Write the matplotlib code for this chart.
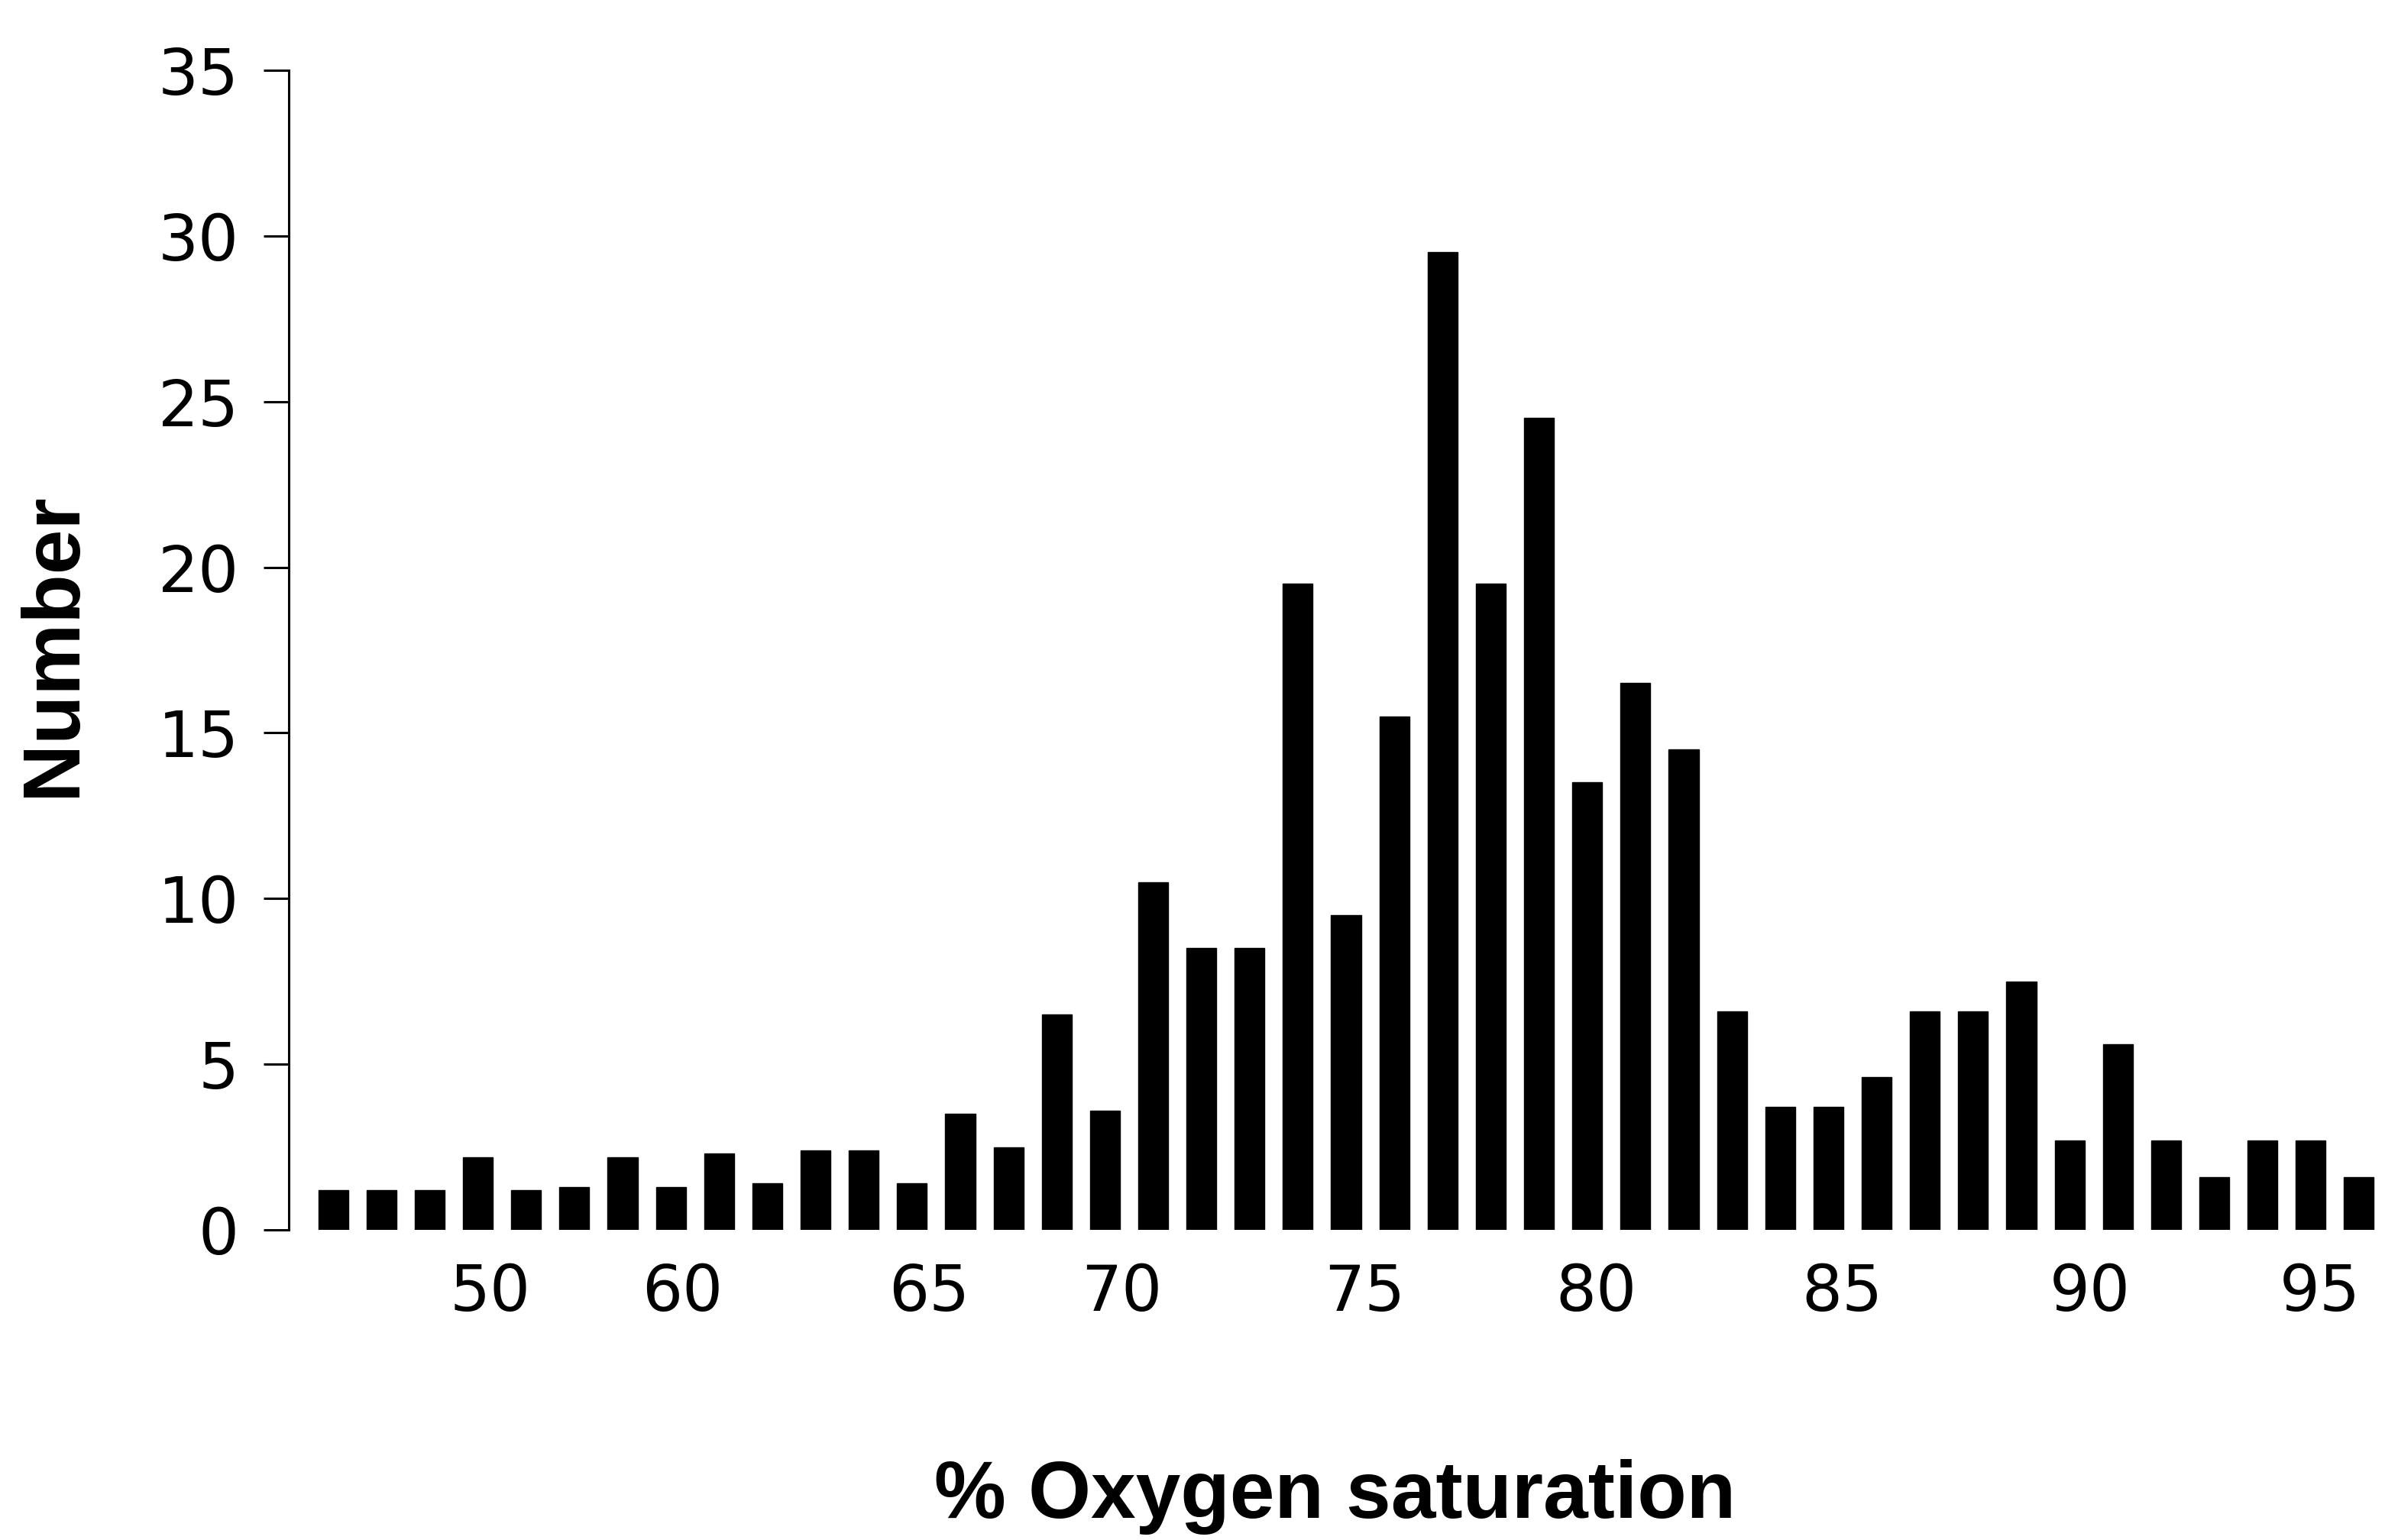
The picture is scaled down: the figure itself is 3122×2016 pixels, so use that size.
import matplotlib
matplotlib.use("Agg")
import matplotlib.pyplot as plt
import numpy as np

plt.rcParams['font.family'] = ['Liberation Sans', 'DejaVu Sans']

## bar heights, left to right
counts = [1.2, 1.2, 1.2, 2.2, 1.2, 1.3, 2.2, 1.3, 2.3, 1.4, 2.4, 2.4, 1.4,
          3.5, 2.5, 6.5, 3.6, 10.5, 8.5, 8.5, 19.5, 9.5, 15.5, 29.5, 19.5,
          24.5, 13.5, 16.5, 14.5, 6.6, 3.7, 3.7, 4.6, 6.6, 6.6, 7.5, 2.7,
          5.6, 2.7, 1.6, 2.7, 2.7, 1.6]
x_labels = ["50", "60", "65", "70", "75", "80", "85", "90", "95"]
x_label_pos = [3.26, 7.24, 12.36, 16.35, 21.38, 26.18, 31.28, 36.43, 41.19]
y_ticks = [0, 5, 10, 15, 20, 25, 30, 35]

fig = plt.figure(figsize=(31.22, 20.16), dpi=100)
ax = fig.add_axes([0.1211, 0.2014, 0.8789, 0.753])

idx = np.arange(len(counts))
ax.bar(idx, counts, width=0.62, color="black", edgecolor="black")

ax.set_xlim(-0.92, 42.54)
ax.set_ylim(0, 35)

ax.set_yticks(y_ticks)
ax.set_yticklabels([str(t) for t in y_ticks], family="DejaVu Sans")
ax.set_xticks(x_label_pos)
ax.set_xticklabels(x_labels, family="DejaVu Sans")

ax.tick_params(axis="y", direction="out", length=24, width=2.2, pad=23,
               labelsize=60, color="black")
ax.tick_params(axis="x", length=0, pad=30, labelsize=60)

for side in ["top", "right", "bottom"]:
    ax.spines[side].set_visible(False)
ax.spines["left"].set_linewidth(2.2)

ax.set_xlabel("% Oxygen saturation", fontsize=76, fontweight="bold")
ax.xaxis.label.set_va("center")
ax.xaxis.set_label_coords(0.499, -0.23)
ax.set_ylabel("Number", fontsize=76, fontweight="bold")
ax.yaxis.label.set_va("center")
ax.yaxis.set_label_coords(-0.112, 0.505)

fig.savefig("out.png", dpi=100, facecolor="white")
